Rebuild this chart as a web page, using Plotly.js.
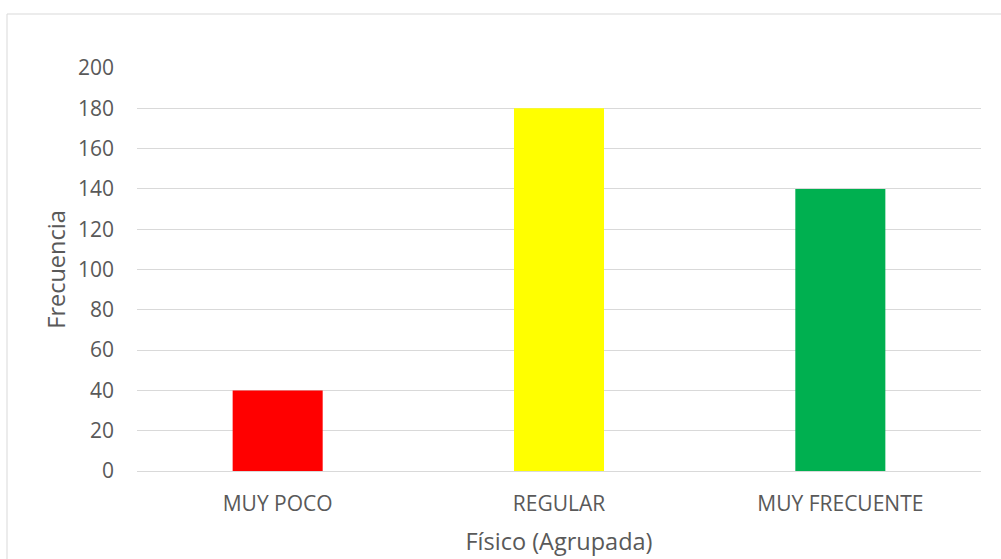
<!DOCTYPE html>
<html><head><meta charset="utf-8">
<script src="https://cdn.plot.ly/plotly-3.0.1.min.js"></script>
<style>html,body{margin:0;padding:0;background:#fff;}#chart{width:1001px;height:559px;}</style>
</head><body><div id="chart"></div>
<script>
const categories = ["MUY POCO", "REGULAR", "MUY FRECUENTE"];
const frecuencia = [40, 180, 140];
const barColors = ["#FF0000", "#FFFF00", "#00B050"];
const yTicks = [0, 20, 40, 60, 80, 100, 120, 140, 160, 180, 200];

const font = "'Open Sans', sans-serif";
const data = [{
  type: "bar", x: categories, y: frecuencia,
  marker: {color: barColors}, hoverinfo: "x+y"
}];
const layout = {
  width: 1001, height: 559,
  margin: {l: 137, r: 20, t: 68, b: 88},
  paper_bgcolor: "#fff", plot_bgcolor: "#fff",
  bargap: 0.68, showlegend: false,
  font: {family: font, color: "#595959", size: 21},
  xaxis: {
    showgrid: false, zeroline: false, showline: false, ticks: "",
    ticklabelstandoff: 18,
    tickfont: {size: 21, color: "#595959"},
    title: {text: "Físico (Agrupada)", font: {size: 23.5, color: "#595959"}, standoff: 17}
  },
  yaxis: {
    range: [0, 200], tickvals: yTicks, showgrid: true, gridcolor: "#d9d9d9", gridwidth: 1,
    zeroline: true, zerolinecolor: "#d9d9d9", zerolinewidth: 1, showline: false, ticks: "",
    ticklabelstandoff: 22,
    tickfont: {size: 21, color: "#595959"},
    title: {text: "Frecuencia", font: {size: 23.5, color: "#595959"}, standoff: 5}
  },
  shapes: [{
    type: "rect", xref: "paper", yref: "paper",
    x0: (7 - 137) / 844, x1: 1.2, y0: -0.5, y1: 1 + (68 - 14) / 403,
    line: {color: "#d9d9d9", width: 1}, fillcolor: "rgba(0,0,0,0)", layer: "below"
  }]
};
Plotly.newPlot("chart", data, layout, {displayModeBar: false, staticPlot: true});
</script></body></html>
